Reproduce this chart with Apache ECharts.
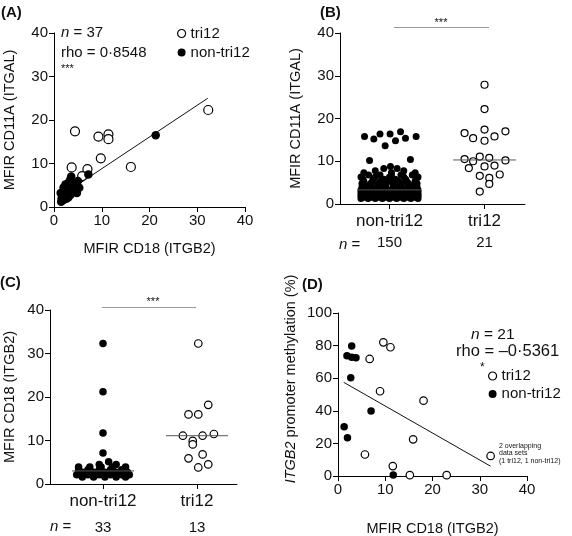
<!DOCTYPE html>
<html><head><meta charset="utf-8">
<script src="https://cdn.jsdelivr.net/npm/echarts@6/dist/echarts.min.js"></script>
<style>html,body{margin:0;padding:0;background:#fff}#c{width:572px;height:536px}</style>
</head><body><div id="c"></div>
<script>
// ---------- Panel A: MFIR CD18 vs MFIR CD11A ----------
const aTri12X = [32.3, 4.4, 9.3, 11.4, 11.4, 9.8, 16.1, 3.7, 7.0, 5.9];
const aTri12Y = [22.3, 17.4, 16.2, 16.7, 15.6, 11.2, 9.2, 9.1, 8.7, 7.1];
const aNonX = [21.3, 7.2, 1.5, 1.6, 1.4, 2.0, 2.3, 2.1, 2.6, 2.4, 3.0, 3.4, 3.6, 2.8, 3.2, 3.5, 3.9, 4.1, 4.6, 4.3, 5.0, 5.3, 2.0, 3.0, 4.8, 2.6, 1.8];
const aNonY = [16.5, 7.5, 1.2, 2.0, 3.2, 1.6, 2.6, 3.6, 4.3, 5.2, 5.6, 6.3, 7.0, 3.1, 4.0, 2.8, 3.6, 4.8, 3.9, 5.6, 6.0, 4.4, 4.5, 2.2, 3.2, 1.9, 2.6];
const aFitX = [1.5, 32.2];
const aFitY = [2.6, 25.0];
const aStats = ['37', '0·8548', '***'];

// ---------- Panel B: MFIR CD11A by group ----------
const bCats = ['non-tri12', 'tri12'];
const bN = [150, 21];
const bMedians = [3.3, 10.3];
const bTri12Off = [0, 0, -0.21, -0.12, 0, 0, 0.105, 0.22, -0.21, -0.05, 0.05, -0.12, 0.22, -0.165, 0, 0.105, -0.05, 0.16, 0.05, 0.05, -0.05];
const bTri12Y = [27.9, 22.2, 16.6, 15.4, 17.4, 14.8, 15.8, 17.0, 10.5, 11.1, 10.8, 10.0, 10.2, 8.4, 8.8, 9.0, 6.6, 6.9, 6.1, 4.7, 2.9];
const bNonOff = [
  -0.263, -0.165, -0.10, -0.046, 0.006, 0.063, 0.116, 0.168, 0.28, -0.21, 0.22,
  -0.30, -0.225, -0.15, -0.075, 0, 0.075, 0.15, 0.225, 0.30,
  -0.26, -0.19, -0.11, -0.04, 0.04, 0.11, 0.19, 0.26,
  -0.30, -0.225, -0.15, -0.075, 0, 0.075, 0.15, 0.225, 0.30,
  -0.26, -0.19, -0.11, -0.04, 0.04, 0.11, 0.19, 0.26,
  -0.30, -0.225, -0.15, -0.075, 0, 0.075, 0.15, 0.225, 0.30,
  -0.26, -0.17, -0.09, 0, 0.09, 0.17, 0.26,
  -0.30, -0.225, -0.15, -0.075, 0, 0.075, 0.15, 0.225, 0.30,
  -0.26, -0.19, -0.11, -0.04, 0.04, 0.11, 0.19, 0.26,
  -0.30, -0.225, -0.15, -0.075, 0, 0.075, 0.15, 0.225, 0.30,
  -0.26, -0.19, -0.11, -0.04, 0.04, 0.11, 0.19, 0.26,
  -0.29, -0.20, -0.12, -0.04, 0.04, 0.12, 0.20, 0.29,
  -0.26, -0.19, -0.11, -0.04, 0.04, 0.11, 0.19, 0.26,
  -0.29, -0.20, -0.12, -0.04, 0.04, 0.12, 0.20, 0.29,
  -0.27, -0.18, -0.09, 0, 0.09, 0.18, 0.27,
  -0.28, -0.17, -0.06, 0.06, 0.17, 0.28,
  -0.30, -0.15, 0, 0.15, 0.30,
  -0.22, -0.10, 0.02, 0.12, 0.24,
  -0.27, 0.02, 0.27,
  -0.15, 0.15,
  -0.06, 0.08,
  0.01
];
const bNonY = [
  15.8, 15.2, 16.4, 13.6, 16.4, 14.8, 16.9, 15.4, 15.8, 10.2, 10.4,
  1.3, 1.3, 1.3, 1.3, 1.3, 1.3, 1.3, 1.3, 1.3,
  1.55, 1.55, 1.55, 1.55, 1.55, 1.55, 1.55, 1.55,
  1.8, 1.8, 1.8, 1.8, 1.8, 1.8, 1.8, 1.8, 1.8,
  2.05, 2.05, 2.05, 2.05, 2.05, 2.05, 2.05, 2.05,
  2.3, 2.3, 2.3, 2.3, 2.3, 2.3, 2.3, 2.3, 2.3,
  2.55, 2.55, 2.55, 2.55, 2.55, 2.55, 2.55,
  2.8, 2.8, 2.8, 2.8, 2.8, 2.8, 2.8, 2.8, 2.8,
  3.05, 3.05, 3.05, 3.05, 3.05, 3.05, 3.05, 3.05,
  3.3, 3.3, 3.3, 3.3, 3.3, 3.3, 3.3, 3.3, 3.3,
  3.65, 3.65, 3.65, 3.65, 3.65, 3.65, 3.65, 3.65,
  4.0, 4.0, 4.0, 4.0, 4.0, 4.0, 4.0, 4.0,
  4.4, 4.4, 4.4, 4.4, 4.4, 4.4, 4.4, 4.4,
  4.8, 4.8, 4.8, 4.8, 4.8, 4.8, 4.8, 4.8,
  5.3, 5.3, 5.3, 5.3, 5.3, 5.3, 5.3,
  5.8, 5.8, 5.8, 5.8, 5.8, 5.8,
  6.3, 6.3, 6.3, 6.3, 6.3,
  6.8, 6.8, 6.8, 6.8, 6.8,
  7.3, 7.3, 7.3,
  7.8, 7.8,
  8.3, 8.3,
  8.8
];

// ---------- Panel C: MFIR CD18 by group ----------
const cCats = ['non-tri12', 'tri12'];
const cN = [33, 13];
const cMedians = [3.0, 11.1];
const cNonOff = [0, 0, 0, 0, 0.06, -0.04, 0.14, -0.26, -0.14, -0.02, 0.1, 0.24, -0.26, -0.16, -0.04, 0.08, 0.2, -0.22, -0.1, 0.02, 0.14, 0.26, -0.28, -0.16, -0.04, 0.08, 0.2, 0.28, -0.22, -0.1, 0.02, 0.14, 0.24];
const cNonY = [32.3, 21.2, 11.7, 7.1, 5.1, 4.5, 4.5, 3.9, 3.9, 3.9, 3.9, 3.9, 3.3, 3.3, 3.3, 3.3, 3.3, 2.7, 2.7, 2.7, 2.7, 2.7, 2.1, 2.1, 2.1, 2.1, 2.1, 2.1, 1.6, 1.6, 1.6, 1.6, 1.6];
const cTri12Off = [0.014, 0.12, -0.09, 0.014, -0.15, 0.06, 0.18, -0.045, -0.045, -0.09, 0.06, 0.014, 0.12];
const cTri12Y = [32.3, 18.2, 16.0, 16.0, 11.1, 11.1, 11.5, 9.9, 9.1, 5.9, 6.8, 3.8, 4.5];

// ---------- Panel D: MFIR CD18 vs ITGB2 promoter methylation ----------
const dTri12X = [9.6, 11.1, 6.7, 8.9, 18.1, 15.9, 5.7, 11.6, 32.3, 15.2, 23.0];
const dTri12Y = [82.0, 79.0, 71.8, 52.0, 46.2, 22.5, 13.2, 6.1, 12.3, 0.5, 0.5];
const dNonX = [2.9, 1.9, 2.9, 3.8, 2.7, 7.0, 1.3, 2.0, 11.7];
const dNonY = [79.8, 73.8, 72.8, 72.6, 60.3, 39.9, 30.2, 23.5, 0.6];
const dFitX = [1.2, 32.3];
const dFitY = [57.5, 6.0];
const dStats = ['21', '–0·5361', '*'];

const FONT = '"Liberation Sans", Arial, Helvetica, sans-serif';
const TXT = '#111';
const TITLE = 14.5;

const zip = (xs, ys) => xs.map((x, i) => [x, ys[i]]);
const offs = (c, os, ys) => os.map((o, i) => [c + o, ys[i]]);

const openStyle = { color: '#fff', borderColor: '#000', borderWidth: 1.2, opacity: 1 };
const fillStyle = { color: '#000', borderColor: '#000', borderWidth: 0, opacity: 1 };

function valAxis(gi, min, max, interval, name, gap) {
  return {
    type: 'value', gridIndex: gi, min, max, interval,
    name, nameLocation: 'middle', nameGap: gap,
    nameTextStyle: { fontSize: TITLE, color: TXT, fontFamily: FONT },
    axisLine: { show: true, onZero: false, lineStyle: { color: '#000', width: 1 } },
    axisTick: { show: true, length: 5, inside: false, lineStyle: { color: '#000', width: 1 } },
    axisLabel: { fontSize: 15, color: TXT, fontFamily: FONT, margin: 6 },
    splitLine: { show: false }
  };
}

function catAxis(gi, min, max, cats, ns, lh2) {
  return {
    type: 'value', gridIndex: gi, min, max,
    axisLine: { show: true, onZero: false, lineStyle: { color: '#000', width: 1 } },
    axisTick: { show: true, length: 5, customValues: [1, 2], lineStyle: { color: '#000' } },
    axisLabel: {
      customValues: [1, 2], margin: 6, fontFamily: FONT, color: TXT,
      formatter: v => '{c|' + cats[Math.round(v) - 1] + '}\n{n|' + ns[Math.round(v) - 1] + '}',
      rich: {
        c: { fontSize: 17, lineHeight: 22, color: TXT, fontFamily: FONT },
        n: { fontSize: 15, lineHeight: lh2, color: TXT, fontFamily: FONT }
      }
    },
    splitLine: { show: false }
  };
}

function scatter(name, gi, data, style, size) {
  return { type: 'scatter', name, xAxisIndex: gi, yAxisIndex: gi, data, symbol: 'circle', symbolSize: size,
    itemStyle: style, emphasis: { disabled: true }, z: 3 };
}
function line(gi, data, color, z) {
  return { type: 'line', name: 'fit' + gi, xAxisIndex: gi, yAxisIndex: gi, data, symbol: 'none', silent: true,
    lineStyle: { color: color, width: 1 }, z: z || 2, clip: false };
}

function txt(x, y, text, size, opts, extra) {
  return Object.assign({
    type: 'text', x, y, silent: true,
    style: Object.assign({ text, fontSize: size, fontFamily: FONT, fill: TXT, align: 'left', verticalAlign: 'middle',
      rich: {
        i: { fontStyle: 'italic', fontSize: size, fontFamily: FONT, fill: TXT },
        r: { fontSize: size, fontFamily: FONT, fill: TXT }
      } }, opts || {})
  }, extra || {});
}

const chart = echarts.init(document.getElementById('c'), null, { renderer: 'canvas' });
const option = {
  animation: false,
  backgroundColor: '#fff',
  textStyle: { fontFamily: FONT },
  grid: [
    { left: 54, top: 33, width: 191, height: 174, containLabel: false, outerBoundsMode: 'none' },
    { left: 340, top: 33, width: 185, height: 171, containLabel: false, outerBoundsMode: 'none' },
    { left: 50, top: 310, width: 187, height: 174, containLabel: false, outerBoundsMode: 'none' },
    { left: 338, top: 313, width: 189, height: 163, containLabel: false, outerBoundsMode: 'none' }
  ],
  xAxis: [
    valAxis(0, 0, 40, 10, 'MFIR CD18 (ITGB2)', 34),
    catAxis(1, 0.479, 2.426, bCats, bN, 22),
    catAxis(2, 0.436, 2.426, cCats, cN, 31),
    valAxis(3, 0, 40, 10, 'MFIR CD18 (ITGB2)', 45)
  ],
  yAxis: [
    valAxis(0, 0, 40, 10, 'MFIR CD11A (ITGAL)', 37),
    valAxis(1, 0, 40, 10, 'MFIR CD11A (ITGAL)', 37),
    valAxis(2, 0, 40, 10, 'MFIR CD18 (ITGB2)', 33),
    valAxis(3, 0, 100, 20, '', 40)
  ],
  legend: [
    { left: 177, top: 24, padding: 0, orient: 'vertical', icon: 'circle', itemWidth: 8, itemHeight: 8, itemGap: 0,
      textStyle: { fontSize: 15, color: TXT, fontFamily: FONT, lineHeight: 19 },
      data: [{ name: 'tri12', itemStyle: openStyle }, { name: 'non-tri12', itemStyle: fillStyle }], selectedMode: false },
    { left: 488, top: 367, padding: 0, orient: 'vertical', icon: 'circle', itemWidth: 8, itemHeight: 8, itemGap: 0,
      textStyle: { fontSize: 15, color: TXT, fontFamily: FONT, lineHeight: 18 },
      data: [{ name: 'tri12', itemStyle: openStyle }, { name: 'non-tri12', itemStyle: fillStyle }], selectedMode: false }
  ],
  series: [
    line(0, zip(aFitX, aFitY), '#111', 2),
    scatter('tri12', 0, zip(aTri12X, aTri12Y), openStyle, 9),
    scatter('non-tri12', 0, zip(aNonX, aNonY), fillStyle, 8.5),

    scatter('non-tri12', 1, offs(1, bNonOff, bNonY), fillStyle, 7),
    scatter('tri12', 1, offs(2, bTri12Off, bTri12Y), openStyle, 7),
    line(1, [[1 - 0.33, bMedians[0]], [1 + 0.33, bMedians[0]]], '#555', 5),
    line(1, [[2 - 0.33, bMedians[1]], [2 + 0.33, bMedians[1]]], '#555', 5),

    scatter('non-tri12', 2, offs(1, cNonOff, cNonY), fillStyle, 7.5),
    scatter('tri12', 2, offs(2, cTri12Off, cTri12Y), openStyle, 7.5),
    line(2, [[1 - 0.33, cMedians[0]], [1 + 0.33, cMedians[0]]], '#555', 5),
    line(2, [[2 - 0.33, cMedians[1]], [2 + 0.33, cMedians[1]]], '#555', 5),

    line(3, zip(dFitX, dFitY), '#111', 2),
    scatter('tri12', 3, zip(dTri12X, dTri12Y), openStyle, 7.5),
    scatter('non-tri12', 3, zip(dNonX, dNonY), fillStyle, 7.5)
  ],
  graphic: [
    txt(1, 13, '(A)', 15, { fontWeight: 'bold' }),
    txt(320, 13, '(B)', 15, { fontWeight: 'bold' }),
    txt(0, 283, '(C)', 15, { fontWeight: 'bold' }),
    txt(302, 285, '(D)', 15, { fontWeight: 'bold' }),

    txt(61, 33, '{i|n} = ' + aStats[0], 15),
    txt(61, 53, 'rho = ' + aStats[1], 15),
    txt(61, 69, aStats[2], 11),

    { type: 'line', silent: true, shape: { x1: 394, y1: 27.5, x2: 489, y2: 27.5 }, style: { stroke: '#999', lineWidth: 1 } },
    txt(441, 23, '***', 11, { align: 'center' }),
    txt(339, 245, '{i|n} =', 15),

    { type: 'line', silent: true, shape: { x1: 102, y1: 307.5, x2: 196, y2: 307.5 }, style: { stroke: '#999', lineWidth: 1 } },
    txt(153, 302, '***', 11, { align: 'center' }),
    txt(50, 527, '{i|n} =', 15),

    txt(291, 379, '{i|ITGB2}{r| promoter methylation (%)}', TITLE, { align: 'center' }, { rotation: Math.PI / 2 }),

    txt(471, 335, '{i|n} = ' + dStats[0], 15.5),
    txt(456, 351, 'rho = ' + dStats[1], 16.5),
    txt(480, 368, dStats[2], 12),
    txt(499, 446, '2 overlapping', 7),
    txt(499, 453.5, 'data sets', 7),
    txt(499, 461, '(1 tri12, 1 non-tri12)', 7)
  ]
};
chart.setOption(option);
</script></body></html>
